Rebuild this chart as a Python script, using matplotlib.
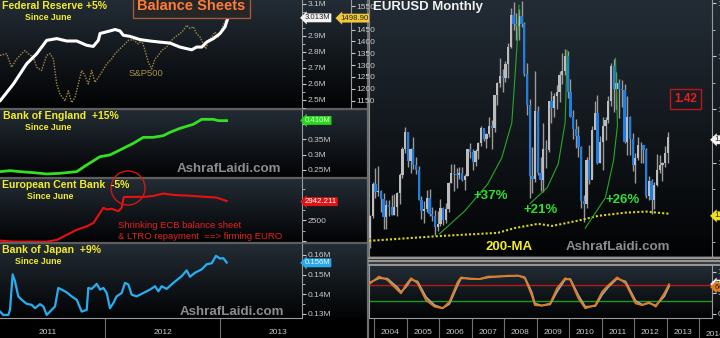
import numpy as np
import matplotlib
matplotlib.use("Agg")
import matplotlib.pyplot as plt
from matplotlib.patches import Rectangle, Ellipse
from matplotlib.lines import Line2D
from matplotlib.colors import LinearSegmentedColormap

# ======================= DATA =======================
# --- Left panels (decimal years) ---
fed_t = [2011.087, 2011.203, 2011.319, 2011.406, 2011.493, 2011.580, 2011.667, 2011.754, 2011.841, 2011.898,
         2011.942, 2011.957, 2012.043, 2012.087, 2012.130, 2012.159, 2012.217, 2012.304, 2012.391, 2012.478,
         2012.565, 2012.652, 2012.710, 2012.754, 2012.797, 2012.841, 2012.884, 2012.942, 2013.000, 2013.043,
         2013.072, 2013.087, 2013.095]
fed_v = [2.492, 2.598, 2.725, 2.788, 2.872, 2.883, 2.868, 2.868, 2.841, 2.834,
         2.872, 2.915, 2.931, 2.940, 2.931, 2.904, 2.897, 2.877, 2.868, 2.861,
         2.855, 2.830, 2.820, 2.813, 2.830, 2.830, 2.861, 2.883, 2.915, 2.956,
         3.020, 3.041, 3.150]

sp_t = [2011.087, 2011.145, 2011.188, 2011.232, 2011.275, 2011.304, 2011.333, 2011.377, 2011.406, 2011.449,
        2011.493, 2011.522, 2011.551, 2011.580, 2011.609, 2011.652, 2011.681, 2011.710, 2011.739, 2011.768,
        2011.797, 2011.826, 2011.855, 2011.884, 2011.913, 2011.942, 2011.971, 2012.015, 2012.058, 2012.087,
        2012.130, 2012.174, 2012.203, 2012.246, 2012.290, 2012.319, 2012.348, 2012.377, 2012.406, 2012.435,
        2012.464, 2012.493, 2012.536, 2012.580, 2012.609, 2012.652, 2012.681, 2012.710, 2012.739, 2012.768,
        2012.797, 2012.826, 2012.855, 2012.878, 2012.899, 2012.928, 2012.957, 2012.986, 2013.000, 2013.029,
        2013.058]
sp_v = [1341, 1348, 1291, 1326, 1348, 1362, 1348, 1333, 1291, 1277,
        1341, 1348, 1326, 1220, 1177, 1148, 1191, 1141, 1163, 1220,
        1277, 1255, 1220, 1277, 1227, 1248, 1269, 1305, 1326, 1348,
        1369, 1390, 1405, 1408, 1390, 1405, 1362, 1312, 1284, 1326,
        1341, 1362, 1376, 1405, 1419, 1433, 1447, 1469, 1455, 1462,
        1433, 1419, 1390, 1369, 1405, 1419, 1440, 1419, 1433, 1469,
        1497]

boe_t = [2011.087, 2011.174, 2011.261, 2011.377, 2011.493, 2011.609, 2011.754, 2011.841, 2011.957, 2012.043,
         2012.130, 2012.188, 2012.246, 2012.333, 2012.420, 2012.507, 2012.565, 2012.652, 2012.768, 2012.841,
         2012.942, 2012.986, 2013.058]
boe_v = [0.2447, 0.2479, 0.2447, 0.2415, 0.2372, 0.2393, 0.2447, 0.2662, 0.2931, 0.2985,
         0.3146, 0.3253, 0.3361, 0.3554, 0.3554, 0.3608, 0.3716, 0.3845, 0.3974, 0.4135,
         0.4135, 0.4092, 0.4092]

ecb_t = [2011.087, 2011.203, 2011.319, 2011.406, 2011.493, 2011.580, 2011.667, 2011.754, 2011.841, 2011.899,
         2011.957, 2011.986, 2012.015, 2012.058, 2012.116, 2012.145, 2012.159, 2012.165, 2012.246, 2012.333,
         2012.420, 2012.507, 2012.594, 2012.710, 2012.797, 2012.884, 2012.971, 2013.014, 2013.058]
ecb_v = [2020, 1996, 1996, 1996, 1996, 2036, 2156, 2276, 2357, 2437,
         2677, 2797, 2757, 2773, 2717, 2797, 2998, 3054, 3054, 3054,
         3078, 3134, 3102, 3086, 3070, 3054, 3038, 2998, 2958]

boj_t = [2011.087, 2011.116, 2011.159, 2011.174, 2011.197, 2011.217, 2011.246, 2011.275, 2011.319, 2011.362,
         2011.391, 2011.435, 2011.464, 2011.493, 2011.536, 2011.565, 2011.594, 2011.623, 2011.667, 2011.710,
         2011.754, 2011.797, 2011.841, 2011.855, 2011.884, 2011.928, 2011.957, 2011.986, 2012.015, 2012.043,
         2012.072, 2012.101, 2012.145, 2012.174, 2012.203, 2012.232, 2012.275, 2012.333, 2012.391, 2012.435,
         2012.464, 2012.493, 2012.536, 2012.594, 2012.667, 2012.710, 2012.739, 2012.783, 2012.841, 2012.884,
         2012.928, 2012.965, 2013.000, 2013.029, 2013.058]
boj_v = [0.13120, 0.12949, 0.12949, 0.13206, 0.15010, 0.14667, 0.13893, 0.13721, 0.13515, 0.13464,
         0.13292, 0.13498, 0.13378, 0.12949, 0.13206, 0.13378, 0.14323, 0.14237, 0.14100, 0.13893,
         0.13721, 0.13120, 0.13206, 0.14323, 0.14272, 0.14529, 0.14237, 0.14323, 0.14065, 0.13292,
         0.13550, 0.13893, 0.14065, 0.14581, 0.14495, 0.13980, 0.13893, 0.14065, 0.14237, 0.14409,
         0.14151, 0.14409, 0.14272, 0.14581, 0.14924, 0.15216, 0.14890, 0.15096, 0.15268, 0.15526,
         0.15577, 0.15955, 0.15818, 0.15835, 0.15612]

left_years = ['2011', '2012', '2013']

# --- EURUSD monthly candles, Nov 2003 .. Jan 2013 ---
eur_first_open = 1.1580
eur_close = [1.1990, 1.2595,
             1.2455, 1.2475, 1.2310, 1.1975, 1.2200, 1.2165, 1.2025, 1.2175, 1.2425, 1.2760, 1.3265, 1.3570,
             1.3040, 1.3250, 1.2960, 1.2870, 1.2300, 1.2100, 1.2120, 1.2340, 1.2030, 1.1990, 1.1790, 1.1840,
             1.2150, 1.1920, 1.2120, 1.2620, 1.2810, 1.2780, 1.2770, 1.2810, 1.2680, 1.2750, 1.3250, 1.3200,
             1.3020, 1.3220, 1.3360, 1.3650, 1.3450, 1.3540, 1.3690, 1.3650, 1.4270, 1.4490, 1.4630, 1.4590,
             1.4860, 1.5180, 1.5780, 1.5600, 1.5560, 1.5750, 1.5600, 1.4670, 1.4090, 1.2740, 1.2700, 1.3970,
             1.2800, 1.2670, 1.3250, 1.3240, 1.4150, 1.4030, 1.4250, 1.4330, 1.4640, 1.4720, 1.5000, 1.4320,
             1.3860, 1.3630, 1.3510, 1.3290, 1.2270, 1.2230, 1.3050, 1.2680, 1.3620, 1.3930, 1.2990, 1.3380,
             1.3690, 1.3810, 1.4160, 1.4810, 1.4390, 1.4500, 1.4390, 1.4360, 1.3390, 1.3860, 1.3450, 1.2950,
             1.3080, 1.3330, 1.3340, 1.3230, 1.2370, 1.2660, 1.2300, 1.2580, 1.2860, 1.2960, 1.2990, 1.3190,
             1.3480]
eur_high = [1.2010, 1.2640,
            1.2897, 1.2930, 1.2480, 1.2420, 1.2290, 1.2300, 1.2390, 1.2410, 1.2440, 1.2810, 1.3300, 1.3667,
            1.3580, 1.3270, 1.3480, 1.3100, 1.2940, 1.2370, 1.2280, 1.2480, 1.2500, 1.2160, 1.2110, 1.2090,
            1.2320, 1.2160, 1.2240, 1.2630, 1.2980, 1.2980, 1.2900, 1.2910, 1.2910, 1.2780, 1.3260, 1.3360,
            1.3260, 1.3250, 1.3390, 1.3680, 1.3630, 1.3550, 1.3850, 1.3810, 1.4280, 1.4520, 1.4970, 1.4760,
            1.4910, 1.5240, 1.5910, 1.6020, 1.5820, 1.5880, 1.6040, 1.5650, 1.4870, 1.4190, 1.3300, 1.4720,
            1.4070, 1.3100, 1.3740, 1.3430, 1.4160, 1.4340, 1.4300, 1.4450, 1.4730, 1.5060, 1.5140, 1.5100,
            1.4580, 1.3990, 1.3820, 1.3690, 1.3320, 1.2390, 1.3100, 1.3330, 1.3680, 1.4160, 1.4280, 1.3500,
            1.3860, 1.3860, 1.4250, 1.4880, 1.4940, 1.4700, 1.4580, 1.4550, 1.4470, 1.4250, 1.3870, 1.3550,
            1.3180, 1.3490, 1.3390, 1.3290, 1.3280, 1.2750, 1.2690, 1.2640, 1.3170, 1.3140, 1.3020, 1.3310,
            1.3580]
eur_low = [1.1400, 1.1960,
           1.2330, 1.2380, 1.2080, 1.1760, 1.1760, 1.1990, 1.2010, 1.2020, 1.2000, 1.2230, 1.2710, 1.3180,
           1.2920, 1.2800, 1.2880, 1.2790, 1.2300, 1.1940, 1.1870, 1.2080, 1.1990, 1.1910, 1.1640, 1.1710,
           1.1800, 1.1830, 1.1870, 1.2070, 1.2610, 1.2460, 1.2530, 1.2700, 1.2660, 1.2480, 1.2740, 1.3090,
           1.2870, 1.2930, 1.3070, 1.3310, 1.3410, 1.3270, 1.3480, 1.3260, 1.3580, 1.4080, 1.4430, 1.4330,
           1.4510, 1.4590, 1.5160, 1.5500, 1.5310, 1.5300, 1.5550, 1.4620, 1.3890, 1.2330, 1.2420, 1.2630,
           1.2760, 1.2460, 1.2450, 1.2890, 1.3200, 1.3750, 1.3860, 1.4000, 1.4140, 1.4480, 1.4650, 1.4220,
           1.3860, 1.3440, 1.3270, 1.3110, 1.2140, 1.1876, 1.2150, 1.2590, 1.2710, 1.3690, 1.2970, 1.3000,
           1.2860, 1.3430, 1.3750, 1.4060, 1.3960, 1.4000, 1.3840, 1.4050, 1.3360, 1.3140, 1.3140, 1.2850,
           1.2620, 1.3050, 1.3000, 1.3000, 1.2340, 1.2290, 1.2040, 1.2130, 1.2560, 1.2800, 1.2660, 1.2920,
           1.3000]

ma_t = [2003.85, 2006.01, 2007.81, 2008.33, 2009.05, 2009.48, 2010.28, 2010.90, 2011.74, 2012.36, 2013.07]
ma_v = [1.153, 1.162, 1.168, 1.177, 1.185, 1.181, 1.191, 1.200, 1.206, 1.208, 1.204]

arc1_t = [2006.01, 2006.79, 2007.50, 2007.93, 2008.24, 2008.33, 2008.43, 2008.46]
arc1_v = [1.166, 1.209, 1.260, 1.309, 1.375, 1.455, 1.549, 1.596]
arc2_t = [2008.80, 2009.33, 2009.67, 2009.88, 2009.91, 2009.94]
arc2_v = [1.223, 1.253, 1.298, 1.375, 1.436, 1.511]
arc3_t = [2010.50, 2011.12, 2011.37, 2011.49, 2011.46, 2011.43]
arc3_v = [1.177, 1.234, 1.304, 1.370, 1.436, 1.496]

st_t = [2003.85, 2004.15, 2004.41, 2004.72, 2004.83, 2004.98, 2005.14, 2005.34, 2005.60, 2005.86,
        2006.11, 2006.32, 2006.58, 2006.68, 2006.99, 2007.25, 2007.51, 2007.82, 2008.13, 2008.44,
        2008.64, 2008.85, 2008.95, 2009.16, 2009.42, 2009.63, 2009.88, 2010.04, 2010.29, 2010.50,
        2010.81, 2011.02, 2011.22, 2011.48, 2011.74, 2012.05, 2012.26, 2012.46, 2012.67, 2012.93,
        2013.08]
st_k = [70.7, 88.9, 81, 57, 49, 69, 85, 73, 33, 17.5,
        13.5, 29, 77, 87, 83, 83, 89, 89, 91, 91,
        85, 45, 21, 20, 25, 61, 85, 81, 37, 13.5,
        21, 53, 69, 87, 73, 25, 21, 28, 17.5, 49,
        70.7]
st_d = [74, 85, 84, 63, 52, 64, 82, 77, 40, 21,
        14, 24, 70, 85, 84, 83, 87, 89, 90, 91,
        87, 52, 25, 20, 23, 53, 82, 83, 44, 17,
        19, 46, 65, 84, 77, 31, 22, 26, 20, 42,
        66]
right_years = list(range(2004, 2015))

# ======================= FIGURE =======================
plt.rcParams['font.family'] = ['Liberation Sans', 'DejaVu Sans']
W, H = 720.0, 338.0
fig = plt.figure(figsize=(7.2, 3.38), dpi=100)
fig.patch.set_facecolor('#000000')


def frac(x0, y0, x1, y1):
    return [x0 / W, 1 - y1 / H, (x1 - x0) / W, (y1 - y0) / H]


def fx(x):
    return x / W


def fy(y):
    return 1 - y / H


# background gradients
bg = fig.add_axes([0, 0, 1, 1], zorder=-10)
bg.set_axis_off()
grad = np.linspace(1, 0, 200).reshape(-1, 1)
cm_panel = LinearSegmentedColormap.from_list('p', ['#020304', '#232c35'])
for (x0, y0, x1, y1) in [(0, 0, 368, 108), (0, 110, 368, 177), (0, 179, 368, 242), (0, 244, 368, 318),
                         (369, 0, 720, 256), (369, 266, 720, 318)]:
    bg.imshow(grad, extent=[x0, x1, y1, y0], cmap=cm_panel, aspect='auto',
              interpolation='bilinear', vmin=0, vmax=1)
bg.set_xlim(0, W)
bg.set_ylim(H, 0)
# separators
for yy in [109, 178, 243]:
    bg.add_line(Line2D([0, 368], [yy, yy], color='#5e5e5e', lw=1.6))
bg.add_line(Line2D([368, 368], [0, H], color='#6e6e6e', lw=1.6))
bg.add_patch(Rectangle((369, 256), 351, 10, fc='#3c3c3c', ec='none'))
for yy in [257.5, 261, 264.5]:
    bg.add_line(Line2D([369, 720], [yy, yy], color='#a8a8a8', lw=1.2))

LX0, LX1 = 2011.087, 2013.713
TICKC = '#c8c8c8'


def style_left(ax):
    ax.set_facecolor('none')
    for s in ['top', 'left', 'bottom']:
        ax.spines[s].set_visible(False)
    ax.spines['right'].set_color('#9a9a9a')
    ax.yaxis.tick_right()
    ax.tick_params(axis='y', which='major', direction='out', length=3, width=0.8,
                   colors=TICKC, labelsize=6, pad=1)
    ax.tick_params(axis='y', which='minor', direction='out', length=2, width=0.6, colors=TICKC)
    ax.tick_params(axis='x', which='both', bottom=False, labelbottom=False)
    ax.set_xlim(LX0, LX1)


def tag(ax, v, label, fc, tc, dx=2.0, fs=5.6):
    ax.annotate(label, xy=(1, v), xycoords=('axes fraction', 'data'), xytext=(dx, 0),
                textcoords='offset points', ha='left', va='center', fontsize=fs, color=tc,
                bbox=dict(boxstyle='larrow,pad=0.12', fc=fc, ec='none'),
                annotation_clip=False, zorder=20)


# ---- Fed ----
ax_fed = fig.add_axes(frac(0, 0, 302, 108))
ax_sp = ax_fed.twinx()
style_left(ax_fed)
ax_fed.set_ylim(2.448, 3.125)
ax_fed.set_yticks([2.5, 2.6, 2.7, 2.8, 2.9, 3.0, 3.1], ['2.5M', '2.6M', '2.7M', '2.8M', '2.9M', '', '3.1M'])
ax_fed.set_yticks(np.arange(2.45, 3.13, 0.05), minor=True)
ax_fed.yaxis.set_ticks_position('right')
ax_fed.yaxis.set_label_position('right')
ax_sp.set_facecolor('none')
for s in ['top', 'left', 'bottom']:
    ax_sp.spines[s].set_visible(False)
ax_sp.spines['right'].set_position(('outward', 35))
ax_sp.spines['right'].set_color('#9a9a9a')
ax_sp.set_ylim(1118.3, 1575.6)
ax_sp.set_yticks(np.arange(1150, 1551, 50), ['1150', '1200', '1250', '1300', '1350', '1400', '1450', '', '1550'])
ax_sp.yaxis.set_ticks_position('right')
ax_sp.tick_params(axis='y', which='major', direction='out', length=3, width=0.8, colors=TICKC, labelsize=6, pad=1)
ax_sp.tick_params(axis='x', which='both', bottom=False, labelbottom=False)
ax_sp.set_xlim(LX0, LX1)
ax_sp.plot(sp_t, sp_v, color='#a08a45', lw=1.0, ls=(0, (1, 1)), zorder=3)
ax_fed.set_zorder(ax_sp.get_zorder() + 1)
ax_fed.plot(fed_t, fed_v, color='#ffffff', lw=2.2, solid_capstyle='round', zorder=4)
tag(ax_fed, 3.013, '3.013M', '#f4f4f4', '#222222')
tag(ax_sp, 1498.9, '1498.90', '#f0c838', '#222222', dx=27.5)

# ---- BoE ----
ax_boe = fig.add_axes(frac(0, 110, 302, 177))
style_left(ax_boe)
ax_boe.set_ylim(0.2274, 0.4436)
ax_boe.set_yticks([0.25, 0.30, 0.35, 0.40], ['0.25M', '0.3M', '0.35M', ''])
ax_boe.plot(boe_t, boe_v, color='#33e022', lw=2.0, zorder=4)
tag(ax_boe, 0.410, '0.410M', '#28d81c', '#e8ffe0')

# ---- ECB ----
ax_ecb = fig.add_axes(frac(0, 179, 302, 242))
style_left(ax_ecb)
ax_ecb.set_ylim(1988, 3478)
ax_ecb.set_yticks([2000, 2500, 3000], ['', '2500', ''])
ax_ecb.set_yticks([2250, 2750, 3250], minor=True)
ax_ecb.plot(ecb_t, ecb_v, color='#e81010', lw=1.5, zorder=4)
tag(ax_ecb, 2942.211, '2942.211', '#e01414', '#ffffff')

# ---- BoJ ----
ax_boj = fig.add_axes(frac(0, 244, 302, 318))
style_left(ax_boj)
ax_boj.set_ylim(0.12794, 0.16557)
ax_boj.set_yticks([0.13, 0.14, 0.15, 0.16], ['0.13M', '0.14M', '0.15M', '0.16M'])
ax_boj.set_yticks([0.135, 0.145, 0.155], minor=True)
ax_boj.plot(boj_t, boj_v, color='#27aef0', lw=1.6, zorder=4)
tag(ax_boj, 0.156, '0.156M', '#2aa8ea', '#e8f6ff')
ax_boj.spines['bottom'].set_visible(True)
ax_boj.spines['bottom'].set_color('#9a9a9a')
ax_boj.set_xticks([2012.0, 2013.0])
ax_boj.set_xticks([2011.5, 2012.5, 2013.5], minor=True)
ax_boj.set_xticklabels(left_years, minor=True)
ax_boj.tick_params(axis='x', which='major', bottom=True, direction='out', length=15, width=0.8,
                   color='#707070', labelbottom=False)
ax_boj.tick_params(axis='x', which='minor', bottom=True, length=0, labelbottom=True,
                   labelsize=6, labelcolor=TICKC, pad=8)

# ---- EURUSD ----
RX0, RX1 = 2003.845, 2014.40
ax_eur = fig.add_axes(frac(369, 0, 712, 256))
ax_eur.set_facecolor('none')
ax_eur.set_xlim(RX0, RX1)
ax_eur.set_ylim(1.1245, 1.6057)
for s in ['top', 'bottom']:
    ax_eur.spines[s].set_visible(False)
ax_eur.spines['left'].set_color('#8a8a8a')
ax_eur.spines['right'].set_color('#9a9a9a')
ax_eur.yaxis.tick_right()
ax_eur.set_yticks([1.2, 1.3, 1.4, 1.5, 1.6], ['', '1.3000', '1.4000', '1.5000', '1.6000'])
ax_eur.set_yticks(np.arange(1.15, 1.61, 0.05), minor=True)
ax_eur.tick_params(axis='y', which='major', direction='out', length=3, colors=TICKC, labelsize=6, pad=1)
ax_eur.tick_params(axis='y', which='minor', direction='out', length=2, colors=TICKC)
ax_eur.tick_params(axis='x', which='both', bottom=False, labelbottom=False)

close = np.array(eur_close)
opn = np.array([eur_first_open] + eur_close[:-1])
hi = np.array(eur_high)
lo = np.array(eur_low)
mx = 2003 + (10.5 + np.arange(len(close))) / 12.0
up = close >= opn
ax_eur.vlines(mx, lo, hi, color='#9a9a9a', lw=1.0, zorder=3)
ax_eur.bar(mx[up], (close - opn)[up], bottom=opn[up], width=0.07, color='#bcbcbc', zorder=4)
ax_eur.bar(mx[~up], (close - opn)[~up], bottom=opn[~up], width=0.07, color='#1b7fe6', zorder=4)
ax_eur.plot(ma_t, ma_v, color='#dcd424', lw=1.5, ls=(0, (1, 1)), zorder=5)
for at, av in [(arc1_t, arc1_v), (arc2_t, arc2_v), (arc3_t, arc3_v)]:
    ax_eur.plot(at, av, color='#27a827', lw=0.8, zorder=5)
tag(ax_eur, 1.343, '1.3430', '#f2f2f2', '#222222')
tag(ax_eur, 1.2, '1.2000', '#f0e020', '#222222')

# ---- Stochastic ----
ax_st = fig.add_axes(frac(369, 266, 712, 318))
ax_st.set_facecolor('none')
ax_st.set_xlim(RX0, RX1)
ax_st.set_ylim(-9.5, 114)
ax_st.spines['top'].set_visible(False)
for s in ['left', 'right', 'bottom']:
    ax_st.spines[s].set_color('#9a9a9a')
ax_st.yaxis.tick_right()
ax_st.set_yticks([0, 50, 100], ['0', '50', '100'])
ax_st.tick_params(axis='y', direction='out', length=3, colors=TICKC, labelsize=6, pad=1)
ax_st.axhline(70, color='#b41c1c', lw=1.0, zorder=2)
ax_st.axhline(30, color='#1f9a1f', lw=1.0, zorder=2)
ax_st.plot(st_t, st_d, color='#a8a8a8', lw=1.3, zorder=3)
ax_st.plot(st_t, st_k, color='#e07a1c', lw=1.3, zorder=4)
ax_st.set_xticks(right_years)
ax_st.set_xticks([y + 0.5 for y in right_years[:-1]], minor=True)
ax_st.set_xticklabels([str(y) for y in right_years[:-1]], minor=True)
ax_st.set_xticklabels([])
ax_st.tick_params(axis='x', which='major', direction='out', length=15, width=0.8, color='#707070')
ax_st.tick_params(axis='x', which='minor', length=0, labelsize=6, labelcolor=TICKC, pad=8)
ax_st.text(2014.5, -0.25, '2014', transform=ax_st.get_xaxis_transform(), ha='center', va='top',
           fontsize=6, color=TICKC, clip_on=False)
tag(ax_st, 71, '71', '#f2f2f2', '#222222')
tag(ax_st, 64, '64', '#e07a1c', '#222222')

# ======================= TEXT =======================
YEL = '#f2ec2a'
fig.text(fx(2), fy(1), 'Federal Reserve +5%', ha='left', va='top', fontsize=7.6, fontweight='bold', color=YEL)
fig.text(fx(25), fy(13), 'Since June', ha='left', va='top', fontsize=6.3, fontweight='bold', color=YEL)
fig.text(fx(191), fy(6.5), 'Balance Sheets', ha='center', va='center', fontsize=10.5, fontweight='bold',
         color='#ff7b3a', bbox=dict(boxstyle='square,pad=0.3', fc='#262626', ec='#a0583a', lw=1))
fig.text(fx(129), fy(69), 'S&P500', ha='left', va='top', fontsize=6.8, color='#a89048')

fig.text(fx(3), fy(111), 'Bank of England  +15%', ha='left', va='top', fontsize=7.6, fontweight='bold', color=YEL)
fig.text(fx(25), fy(123), 'Since June', ha='left', va='top', fontsize=6.3, fontweight='bold', color=YEL)
fig.text(fx(229), fy(169), 'AshrafLaidi.com', ha='center', va='center', fontsize=9.6, fontweight='bold', color='#8c8c8c')

fig.text(fx(2), fy(180), 'European Cent Bank  -5%', ha='left', va='top', fontsize=7.6, fontweight='bold', color=YEL)
fig.text(fx(27), fy(192), 'Since June', ha='left', va='top', fontsize=6.3, fontweight='bold', color=YEL)
fig.text(fx(118), fy(221), 'Shrinking ECB balance sheet', ha='left', va='top', fontsize=6.8, color='#e42020')
fig.text(fx(118), fy(232), '& LTRO repayment  ==> firming EURO', ha='left', va='top', fontsize=6.8, color='#e42020')
fig.add_artist(Ellipse((fx(128), fy(188)), 34 / W, 34 / H, fc='none', ec='#d01818', lw=1.0,
                       transform=fig.transFigure))

fig.text(fx(2), fy(245), 'Bank of Japan  +9%', ha='left', va='top', fontsize=7.6, fontweight='bold', color=YEL)
fig.text(fx(15), fy(257), 'Since June', ha='left', va='top', fontsize=6.3, fontweight='bold', color=YEL)
fig.text(fx(232), fy(312), 'AshrafLaidi.com', ha='center', va='center', fontsize=9.6, fontweight='bold', color='#8c8c8c')

fig.text(fx(373), fy(1), 'EURUSD Monthly', ha='left', va='top', fontsize=9.5, fontweight='bold', color='#f0f0f0')
fig.text(fx(685.5), fy(99), '1.42', ha='center', va='center', fontsize=8.5, fontweight='bold', color='#e42020',
         bbox=dict(boxstyle='square,pad=0.35', fc='none', ec='#b81818', lw=1))
GRN = '#33dd33'
fig.text(fx(491), fy(196), '+37%', ha='center', va='center', fontsize=9.5, fontweight='bold', color=GRN)
fig.text(fx(541), fy(210), '+21%', ha='center', va='center', fontsize=9.5, fontweight='bold', color=GRN)
fig.text(fx(623), fy(200), '+26%', ha='center', va='center', fontsize=9.5, fontweight='bold', color=GRN)
fig.text(fx(509), fy(247), '200-MA', ha='center', va='center', fontsize=9.5, fontweight='bold', color='#f2ec2a')
fig.text(fx(618), fy(247), 'AshrafLaidi.com', ha='center', va='center', fontsize=9.6, fontweight='bold', color='#8c8c8c')

fig.savefig('out.png', dpi=100, facecolor=fig.get_facecolor())
